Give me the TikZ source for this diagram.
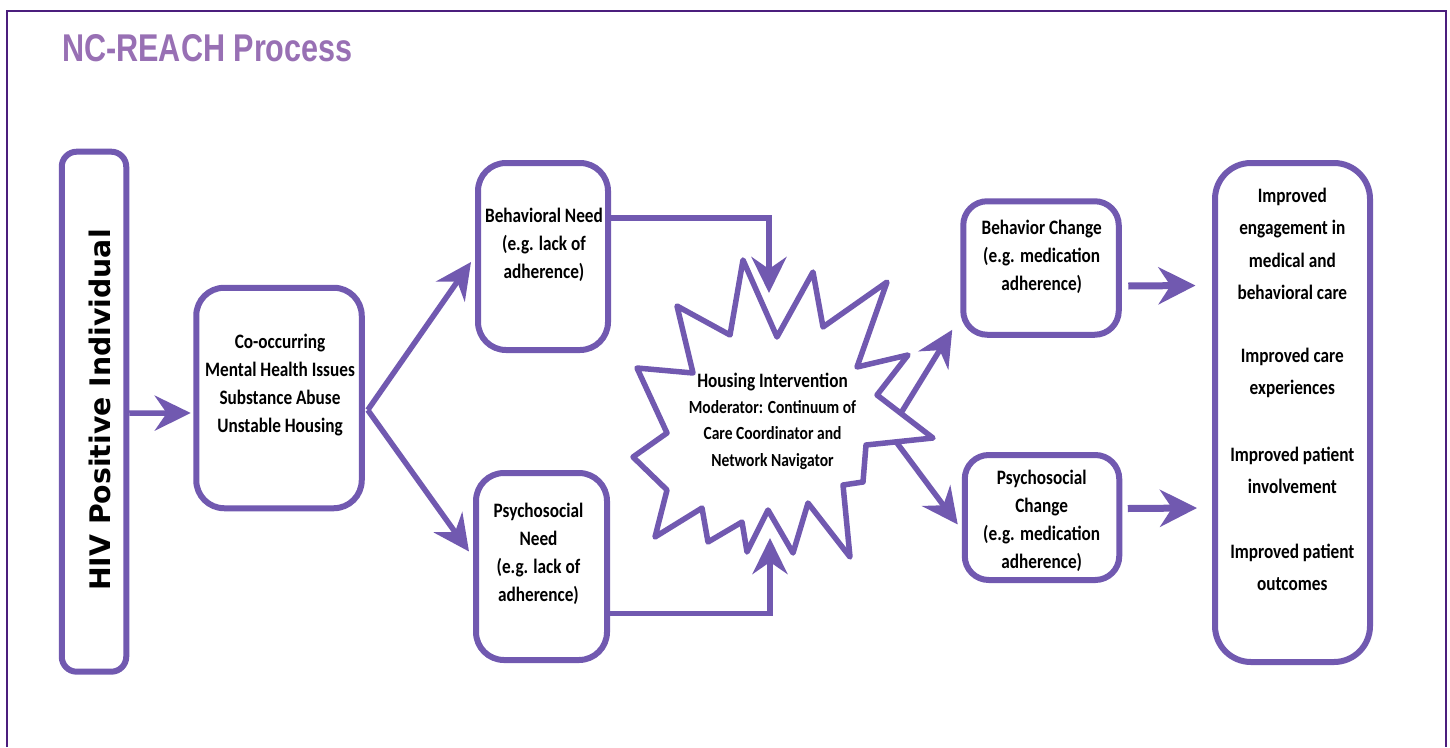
\documentclass[tikz,border=0pt]{standalone}
\usepackage{fontspec}
\usetikzlibrary{arrows.meta}
\newfontfamily\bodyfont[FakeStretch=0.84]{Carlito}
\newfontfamily\titlefont[FakeStretch=0.79]{Liberation Sans}
\newfontfamily\hivfont{DejaVu Sans}
\definecolor{boxpurple}{RGB}{113,89,176}
\definecolor{framepurple}{RGB}{75,30,125}
\definecolor{titlepurple}{RGB}{152,112,180}
\begin{document}
\begin{tikzpicture}[x=1pt,y=-1pt,
  box/.style={draw=boxpurple, line width=6pt, rounded corners=#1, inner sep=0pt},
  box/.default=26pt,
  txt/.style={align=center, inner sep=0pt, font=\bodyfont\bfseries\fontsize{20.5}{28}\selectfont},
  otxt/.style={align=center, inner sep=0pt, font=\bodyfont\bfseries\fontsize{20.5}{32.4}\selectfont},
  stxt/.style={align=center, inner sep=0pt, font=\bodyfont\bfseries\fontsize{18.5}{26.7}\selectfont},
  conn/.style={draw=boxpurple, line width=5.5pt, -{Stealth[length=36pt,width=35pt,inset=12pt]}},
  thick conn/.style={draw=boxpurple, line width=7pt, -{Stealth[length=37pt,width=37pt,inset=12pt]}},
  starline/.style={draw=boxpurple, line width=5.5pt, line join=round}
]
\useasboundingbox (0,0) rectangle (1450,747);
\fill[white] (0,0) rectangle (1450,747);
% frame
\draw[framepurple, line width=2pt] (7,747) -- (7,11) -- (1446,11) -- (1446,747);
% title
\node[anchor=base west, inner sep=0pt, text=titlepurple, font=\titlefont\bfseries\fontsize{38.7}{44}\selectfont] (title) at (62,61) {NC-REACH Process};

% boxes
\node[box=15pt, minimum width=64.5pt, minimum height=520pt] (hiv) at (94,411.7) {};
\node[anchor=base, rotate=90, inner sep=0pt, font=\hivfont\bfseries\fontsize{28.3}{32}\selectfont] (hivT) at (110,410) {HIV Positive Individual};

\node[box=28pt, minimum width=165.5pt, minimum height=220.5pt] (cooc) at (279,398) {};
\node[txt] (coocT) at (280,384.7) {Co-occurring\\Mental Health Issues\\Substance Abuse\\Unstable Housing};

\node[box=28pt, minimum width=130pt, minimum height=187pt] (bneed) at (543,256.5) {};
\node[txt] (bneedT) at (544,245.3) {Behavioral Need\\(e.g. lack of\\adherence)};

\node[box=28pt, minimum width=131pt, minimum height=187pt] (pneed) at (541.5,566.5) {};
\node[txt] (pneedT) at (538.5,554.2) {Psychosocial\\Need\\(e.g. lack of\\adherence)};

\node[box=24pt, minimum width=155.5pt, minimum height=133.5pt] (bchg) at (1041,268) {};
\node[txt] (bchgT) at (1041.7,256.7) {Behavior Change\\(e.g. medication\\adherence)};

\node[box=24pt, minimum width=154.5pt, minimum height=125pt] (pchg) at (1042,517.5) {};
\node[txt] (pchgT) at (1041.7,520.8) {Psychosocial\\Change\\(e.g. medication\\adherence)};

\node[box=36pt, minimum width=155pt, minimum height=499pt] (out) at (1292.5,412.5) {};
\node[otxt] (out1) at (1292.3,243.7) {Improved\\engagement in\\medical and\\behavioral care};
\node[otxt] (out2) at (1292.3,373.2) {Improved care\\experiences};
\node[otxt] (out3) at (1292.3,470.2) {Improved patient\\involvement};
\node[otxt] (out4) at (1292.3,567.2) {Improved patient\\outcomes};

% star
\draw[starline] (743,260) -- (777,337) -- (813,272) -- (823,327) -- (887,282) -- (857,367) -- (908,355) -- (877,395) -- (933,438) -- (866,445) -- (863,482) -- (843,485) -- (850,557) -- (808,503) -- (793,553) -- (768,510) -- (747,552) -- (742,522) -- (708,542) -- (702,508) -- (655,537) -- (667,490) -- (633,457) -- (667,433) -- (637,368) -- (693,373) -- (677,306) -- (730,335) -- cycle;
\coordinate (starTop) at (769,293);
\coordinate (starBot) at (770,538);
\coordinate (starR1) at (901,413);
\coordinate (starR2) at (897,443);
\node[txt] (starT) at (772.5,381.7) {Housing Intervention};
\node[stxt] (starS) at (772.5,435) {Moderator: Continuum of\\Care Coordinator and\\Network Navigator};

% connectors
\draw[conn] ([shift={(0,1.5)}]hiv.east) -- ([shift={(-2.5,15)}]cooc.west);
\draw[conn] ([shift={(3,12)}]cooc.east) -- ([shift={(-4,5.5)}]bneed.west);
\draw[conn] ([shift={(3,12)}]cooc.east) -- ([shift={(-4,-15)}]pneed.west);
\draw[conn] ([shift={(0,-38.5)}]bneed.east) -| (starTop);
\draw[conn] ([shift={(0,47)}]pneed.east) -| (starBot);
\draw[conn] (starR1) -- ([shift={(-8,-8)}]bchg.south west);
\draw[conn] (starR2) -- ([shift={(-4,7)}]pchg.west);
\draw[thick conn] ([shift={(6.5,18)}]bchg.east) -- ([shift={(-16.5,-127)}]out.west);
\draw[thick conn] ([shift={(5.5,-9)}]pchg.east) -- ([shift={(-15,95.5)}]out.west);
\end{tikzpicture}
\end{document}
